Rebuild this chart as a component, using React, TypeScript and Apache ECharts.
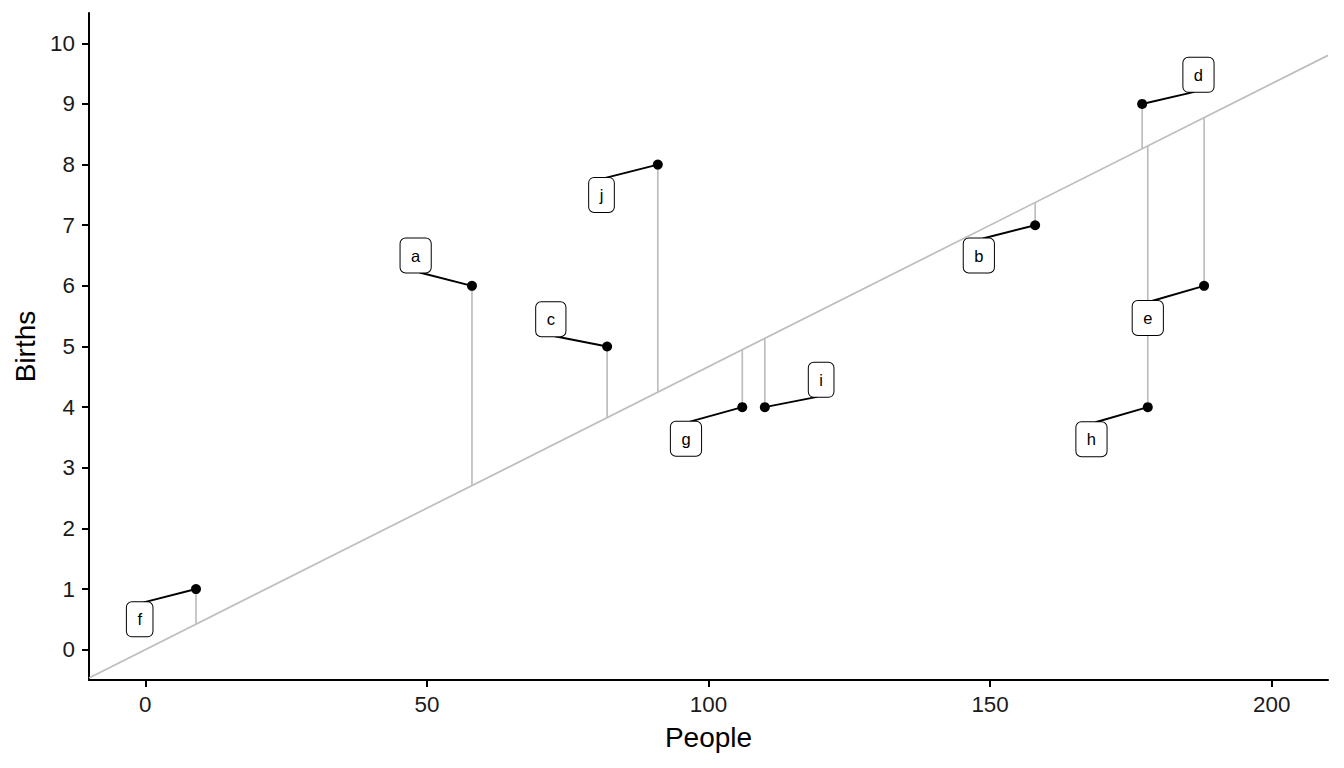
import React, { useEffect, useRef } from "react";
import * as echarts from "echarts";

// ---- data ----
const labels = ["a", "b", "c", "d", "e", "f", "g", "h", "i", "j"];
const people = [58, 158, 82, 177, 188, 9, 106, 178, 110, 91];
const births = [6, 7, 5, 9, 6, 1, 4, 4, 4, 8];
// label offsets (data units), as placed by the repel layout
const nudgeX = [-10, -10, -10, 10, -10, -10, -10, -10, 10, -10];
const nudgeY = [0.5, -0.5, 0.45, 0.48, -0.53, -0.5, -0.52, -0.53, 0.45, -0.5];
const xTicks = [0, 50, 100, 150, 200];
const yTicks = [0, 1, 2, 3, 4, 5, 6, 7, 8, 9, 10];
const xRange = [-10, 210];
const yRange = [-0.5, 10.5];

const FONT = "'Liberation Sans', Arial, Helvetica, sans-serif";
const GREY = "#BEBEBE";

export default function App() {
  const ref = useRef<HTMLDivElement>(null);

  useEffect(() => {
    if (!ref.current) return;
    const chart = echarts.init(ref.current, undefined, { renderer: "svg" });

    const rate =
      births.reduce((a, b) => a + b, 0) / people.reduce((a, b) => a + b, 0);

    const points = people.map((x, i) => [x, births[i]]);
    const fitLine = xRange.map((x) => [x, x * rate]);
    const residuals = people.map((x, i) => [x, births[i], x * rate]);
    const labelData = people.map((x, i) => [
      x,
      births[i],
      x + nudgeX[i],
      births[i] + nudgeY[i],
    ]);

    const axisCommon = {
      axisLine: { show: true, onZero: false, lineStyle: { color: "#000", width: 2 } },
      axisTick: { show: true, length: 7, lineStyle: { color: "#000", width: 2 } },
      splitLine: { show: false },
      nameLocation: "middle" as const,
      nameTextStyle: { fontFamily: FONT, fontSize: 28, color: "#000" },
    };

    chart.setOption({
      animation: false,
      backgroundColor: "#fff",
      grid: { left: 89, right: 16, top: 13, bottom: 88, containLabel: false },
      xAxis: {
        type: "value",
        min: xRange[0],
        max: xRange[1],
        name: "People",
        nameGap: 43,
        ...axisCommon,
        axisTick: { ...axisCommon.axisTick, customValues: xTicks },
        axisLabel: {
          customValues: xTicks,
          fontFamily: FONT,
          fontSize: 22.4,
          color: "#1a1a1a",
          margin: 13,
        },
      },
      yAxis: {
        type: "value",
        min: yRange[0],
        max: yRange[1],
        name: "Births",
        nameGap: 49,
        nameRotate: 90,
        ...axisCommon,
        axisTick: { ...axisCommon.axisTick, customValues: yTicks },
        axisLabel: {
          customValues: yTicks,
          fontFamily: FONT,
          fontSize: 22.4,
          color: "#1a1a1a",
          margin: 14,
        },
      },
      series: [
        {
          type: "line",
          data: fitLine,
          symbol: "none",
          lineStyle: { color: GREY, width: 1.7 },
          z: 1,
          silent: true,
        },
        {
          type: "custom",
          data: residuals,
          z: 2,
          silent: true,
          renderItem: (params: any, api: any) => {
            const a = api.coord([api.value(0), api.value(1)]);
            const b = api.coord([api.value(0), api.value(2)]);
            return {
              type: "line",
              shape: { x1: a[0], y1: a[1], x2: b[0], y2: b[1] },
              style: { stroke: GREY, lineWidth: 1.7 },
            };
          },
        },
        {
          type: "scatter",
          data: points,
          symbol: "circle",
          symbolSize: 10,
          itemStyle: { color: "#000", opacity: 1 },
          z: 4,
          silent: true,
        },
        {
          type: "custom",
          data: labelData,
          z: 5,
          silent: true,
          renderItem: (params: any, api: any) => {
            const i = params.dataIndex;
            const p = api.coord([api.value(0), api.value(1)]);
            const c = api.coord([api.value(2), api.value(3)]);
            const half = 17;
            const ey = c[1] + (p[1] < c[1] ? -half : half);
            const ex = c[0] + (p[0] > c[0] ? 4 : -4);
            return {
              type: "group",
              children: [
                {
                  type: "line",
                  shape: { x1: p[0], y1: p[1], x2: ex, y2: ey },
                  style: { stroke: "#000", lineWidth: 1.9 },
                },
                {
                  type: "text",
                  x: c[0],
                  y: c[1],
                  style: {
                    text: labels[i],
                    fontFamily: FONT,
                    fontSize: 16.5,
                    lineHeight: 16,
                    fill: "#000",
                    align: "center",
                    verticalAlign: "middle",
                    backgroundColor: "#fff",
                    borderColor: "#000",
                    borderWidth: 1,
                    borderRadius: 5,
                    padding: [9, 10.5, 9, 10.5],
                  },
                },
              ],
            };
          },
        },
      ],
    });

    return () => chart.dispose();
  }, []);

  return (
    <div
      ref={ref}
      style={{ position: "absolute", left: 0, top: 0, width: 1344, height: 768 }}
    />
  );
}
